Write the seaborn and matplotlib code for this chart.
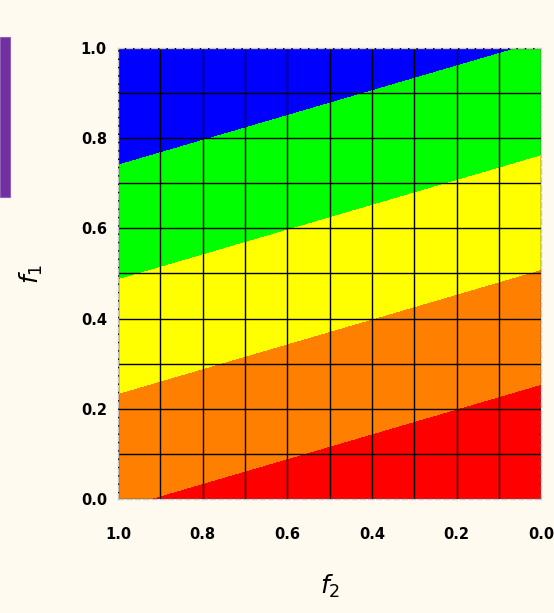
import numpy as np
import pandas as pd
import seaborn as sns
import matplotlib
matplotlib.use("Agg")
import matplotlib.pyplot as plt
from matplotlib.patches import Rectangle

# Surface values at the corners of the (f2, f1) unit square
f2_corners = [0.0, 1.0]
f1_corners = [0.0, 1.0]
z_corners = [[0.000, 0.275],   # f1 = 0.0  (f2 = 0.0, 1.0)
             [1.000, 1.275]]   # f1 = 1.0  (f2 = 0.0, 1.0)

# Band boundaries and colours (low -> high)
levels = [-0.1, 0.2545, 0.509, 0.7635, 1.018, 1.4]
band_colors = ["#FF0000", "#FF8000", "#FFFF00", "#00FF00", "#0000FF"]

tick_values = [0.0, 0.2, 0.4, 0.6, 0.8, 1.0]
tick_labels = ["0.0", "0.2", "0.4", "0.6", "0.8", "1.0"]
grid_values = [round(0.1 * i, 1) for i in range(11)]

bg = "#FFFAF0"
sns.set_theme(style="white")
plt.rcParams["font.family"] = ["DejaVu Sans"]

fig = plt.figure(figsize=(5.54, 6.13), dpi=100, facecolor=bg)
ax = fig.add_axes([0.213, 0.186, 0.764, 0.736])
ax.set_facecolor(bg)

surface = pd.DataFrame(z_corners, index=f1_corners, columns=f2_corners)
X, Y = np.meshgrid(surface.columns.values, surface.index.values)
ax.contourf(X, Y, surface.values, levels=levels, colors=band_colors, zorder=1)

ax.set_xlim(1.0, 0.0)
ax.set_ylim(0.0, 1.0)

for g in grid_values:
    ax.axvline(g, color="black", lw=1.0, zorder=2)
    ax.axhline(g, color="black", lw=1.0, zorder=2)

ax.set_xticks(tick_values)
ax.set_xticklabels(tick_labels, fontsize=10.5, fontweight="bold", color="black")
ax.set_yticks(tick_values)
ax.set_yticklabels(tick_labels, fontsize=10.5, fontweight="bold", color="black")
ax.tick_params(axis="x", length=0, pad=20)
ax.tick_params(axis="y", length=0, pad=8)

for s in ax.spines.values():
    s.set_visible(True)
    s.set_color("#C8C8C8")
    s.set_linestyle((0, (4, 2)))
    s.set_linewidth(1.0)
    s.set_zorder(3)

ax.set_xlabel("$f_2$", fontsize=18, color="black", labelpad=22)
ax.set_ylabel("$f_1$", fontsize=18, color="black", labelpad=26)

# Accent bar at the left edge
fig.patches.append(Rectangle((0, 1 - 197 / 613), 10 / 554, 160 / 613,
                             transform=fig.transFigure, facecolor="#7030A0",
                             edgecolor="#9060B8", lw=0.8))

fig.savefig("out.png", dpi=100, facecolor=bg)
